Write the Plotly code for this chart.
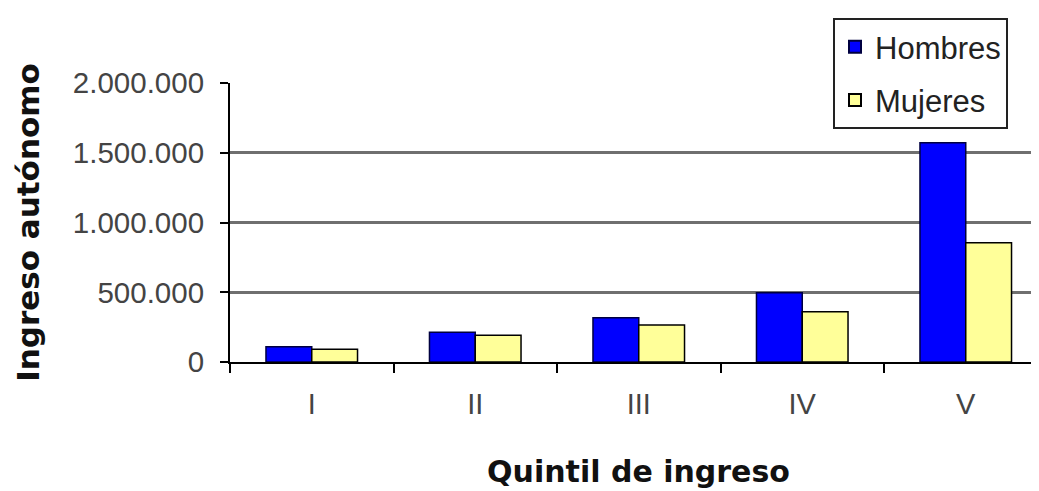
import plotly.graph_objects as go

categories = ["I", "II", "III", "IV", "V"]
hombres = [110000, 213000, 318000, 497000, 1572000]
mujeres = [91000, 191000, 265000, 360000, 855000]
y_ticks = [0, 500000, 1000000, 1500000, 2000000]
y_tick_labels = ["0", "500.000", "1.000.000", "1.500.000", "2.000.000"]

OFF = 8  # default body margin of the html page
L, T, B = 230 - OFF, 83 - OFF, 491 - 362 + OFF
plot_w = 1039 - L
plot_h = 491 - T - B

fig = go.Figure()
fig.add_trace(go.Bar(x=categories, y=hombres, name="Hombres", legendgroup="h",
                     marker=dict(color="#0000FF", line=dict(color="#000040", width=1.5))))
fig.add_trace(go.Bar(x=categories, y=mujeres, name="Mujeres", legendgroup="m",
                     marker=dict(color="#FFFF99", line=dict(color="#000000", width=1.5))))

fig.update_layout(
    width=1039, height=491,
    margin=dict(l=L, r=0, t=T, b=B),
    paper_bgcolor="white", plot_bgcolor="white",
    barmode="group", bargap=0.44, bargroupgap=0,
    font=dict(family="Liberation Sans, Arial", color="#333333", size=29),
    legend=dict(x=(833 - OFF - L) / plot_w, xanchor="left", y=1 + (T - (18 - OFF)) / plot_h, yanchor="top",
                bordercolor="#222222", borderwidth=2, bgcolor="white",
                font=dict(size=31, color="#222222"), itemsizing="constant",
                tracegroupgap=10, itemwidth=30),
    showlegend=True,
)
fig.update_xaxes(
    range=[-0.5, -0.5 + plot_w / 163.5],
    showline=True, linecolor="black", linewidth=2,
    ticks="outside", tickson="boundaries", ticklen=9, tickcolor="black", tickwidth=2,
    tickfont=dict(size=29, color="#444444"), ticklabelstandoff=15,
    title=dict(text="Quintil de ingreso", font=dict(family="DejaVu Sans", size=30, color="#111111", weight="bold"), standoff=42),
    showgrid=False,
)
fig.update_yaxes(
    range=[0, 2000000], tickvals=y_ticks, ticktext=y_tick_labels,
    showline=True, linecolor="black", linewidth=2,
    ticks="outside", ticklen=8, tickcolor="black", tickwidth=2,
    tickfont=dict(size=29.5, color="#444444"), ticklabelstandoff=10,
    showgrid=True, gridcolor="#6f6f6f", gridwidth=2.5,
    zeroline=False,
    title=dict(text="Ingreso autónomo", font=dict(family="DejaVu Sans", size=31, color="#111111", weight="bold"), standoff=24),
)

fig.write_html("out.html")
